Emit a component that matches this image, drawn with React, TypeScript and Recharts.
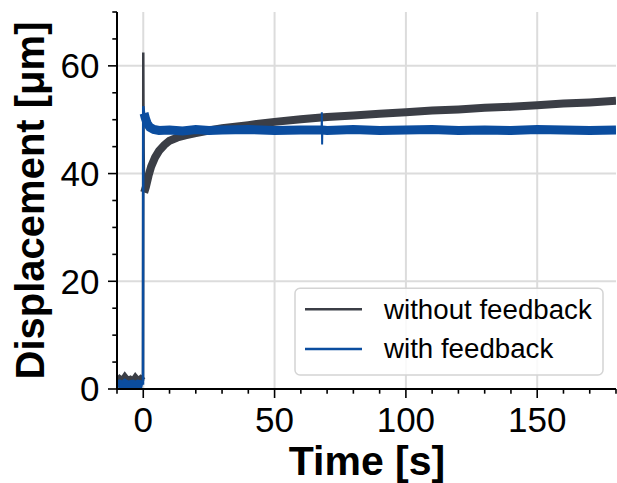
import React from 'react';
import { LineChart, Line, XAxis, YAxis, CartesianGrid, Customized } from 'recharts';

const FONT = '"Liberation Sans", Arial, Helvetica, sans-serif';

// ---- axis ticks / labels ----
const xMajorTicks = [0, 50, 100, 150];
const xMinorTicks = [-10, 10, 20, 30, 40, 60, 70, 80, 90, 110, 120, 130, 140, 160, 170, 180];
const yMajorTicks = [0, 20, 40, 60];
const yMinorTicks = [5, 10, 15, 25, 30, 35, 45, 50, 55, 65, 70];
const xDomain = [-10, 180];
const yDomain = [0, 70];
const xLabel = 'Time [s]';
const yLabel = 'Displacement [μm]';
const seriesNames = ['without feedback', 'with feedback'];
const seriesColors = ['#3b3e46', '#0b4d9f'];

// ---- without feedback (dark gray) ----
const grayPreT = [-10, -9, -8, -7, -6, -5, -4, -3, -2, -1, -0.1];
const grayPreV = [1.4, 1.9, 1.5, 2.2, 1.6, 1.8, 1.4, 2.1, 1.5, 1.9, 1.5];
const grayJumpT = [-0.1, 0, 0.12, 0.35];
const grayJumpV = [1.5, 62.5, 45, 37];
const grayMainT = [0.35, 1, 2, 3, 4.5, 6, 8, 10, 13, 16, 20, 25, 30, 35, 40, 50, 60, 70, 80, 90, 100, 110, 120, 130, 140, 150, 160, 170, 180];
const grayMainV = [36.5, 37.5, 39.6, 41.3, 43.0, 44.2, 45.3, 46.1, 46.7, 47.1, 47.5, 48.0, 48.4, 48.7, 49.0, 49.6, 50.1, 50.5, 50.8, 51.1, 51.4, 51.7, 51.9, 52.2, 52.4, 52.7, 53.0, 53.2, 53.5];

// ---- with feedback (blue) ----
const bluePreT = [-10, -9, -8, -7, -6, -5, -4, -3, -2, -1, -0.1];
const bluePreV = [0.8, 1.0, 0.7, 1.1, 0.8, 0.9, 1.0, 0.7, 1.0, 0.9, 0.8];
const blueJumpT = [-0.1, 0, 0.3];
const blueJumpV = [0.8, 52.5, 51.2];
const blueMainT = [0.3, 0.8, 1.5, 2.5, 4, 6, 10, 15, 20, 25, 30, 40, 50, 60, 67.9, 68.2, 70, 80, 90, 100, 110, 120, 130, 140, 150, 160, 170, 180];
const blueMainV = [51.2, 50.3, 49.3, 48.6, 48.2, 48.0, 48.1, 47.9, 48.2, 48.0, 48.1, 48.2, 48.0, 48.1, 48.1, 48.1, 48.0, 48.2, 48.0, 48.1, 48.2, 48.0, 48.1, 48.0, 48.2, 48.1, 48.0, 48.1];
const blueSpikeT = [67.9, 68.0, 68.1, 68.2];
const blueSpikeV = [48.1, 51.4, 45.4, 48.1];

const toPts = (t: number[], v: number[]) => t.map((x, i) => ({ t: x, v: v[i] }));

const grayPre = toPts(grayPreT, grayPreV);
const grayJump = toPts(grayJumpT, grayJumpV);
const grayMain = toPts(grayMainT, grayMainV);
const bluePre = toPts(bluePreT, bluePreV);
const blueJump = toPts(blueJumpT, blueJumpV);
const blueMain = toPts(blueMainT, blueMainV);
const blueSpike = toPts(blueSpikeT, blueSpikeV);

const xAllTicks = [...xMajorTicks, ...xMinorTicks].sort((a, b) => a - b);
const yAllTicks = [...yMajorTicks, ...yMinorTicks].sort((a, b) => a - b);

const XTick = (props: any) => {
  const { x, y, payload } = props;
  const major = xMajorTicks.includes(payload.value);
  return (
    <g>
      <line x1={x} x2={x} y1={y} y2={y + (major ? 9 : 4.7)} stroke="#000" strokeWidth={1.6} />
      {major && (
        <text x={x} y={y + 43} textAnchor="middle" fontSize={35} fontFamily={FONT} fill="#000">
          {payload.value}
        </text>
      )}
    </g>
  );
};

const YTick = (props: any) => {
  const { x, y, payload } = props;
  const major = yMajorTicks.includes(payload.value);
  return (
    <g>
      <line x1={x} x2={x - (major ? 9 : 4.7)} y1={y} y2={y} stroke="#000" strokeWidth={1.6} />
      {major && (
        <text x={x - 17.5} y={y + 12.4} textAnchor="end" fontSize={35} fontFamily={FONT} fill="#000">
          {payload.value}
        </text>
      )}
    </g>
  );
};

const Overlay = () => (
  <g>
    <text
      x={44}
      y={200.5}
      transform="rotate(-90, 44, 200.5)"
      textAnchor="middle"
      fontSize={40}
      fontWeight="bold"
      fontFamily={FONT}
      fill="#000"
    >
      {yLabel}
    </text>
    <text x={367} y={475} textAnchor="middle" fontSize={41} fontWeight="bold" fontFamily={FONT} fill="#000">
      {xLabel}
    </text>
    <rect x={295} y={288.3} width={308} height={86.7} rx={5} ry={5} fill="#fff" fillOpacity={0.85} stroke="#d4d4d4" strokeWidth={1.5} />
    {seriesNames.map((name, i) => (
      <g key={name}>
        <line x1={305} x2={362} y1={309.3 + i * 39.7} y2={309.3 + i * 39.7} stroke={seriesColors[i]} strokeWidth={2.5} />
        <text x={384} y={318.5 + i * 39.7} fontSize={27.7} fontFamily={FONT} fill="#000">
          {name}
        </text>
      </g>
    ))}
  </g>
);

export default function App() {
  return (
    <div style={{ position: 'fixed', left: 0, top: 0, width: 617, height: 483, background: '#fff' }}>
      <LineChart width={617} height={483} margin={{ top: 12, right: 1, left: 0, bottom: 0 }}>
        <CartesianGrid
          stroke="#dcdcdc"
          strokeWidth={2}
          verticalValues={xMajorTicks}
          horizontalValues={yMajorTicks}
          syncWithTicks
        />
        <XAxis
          dataKey="t"
          type="number"
          domain={xDomain}
          allowDataOverflow
          ticks={xAllTicks}
          interval={0}
          tickSize={0}
          tickMargin={0}
          tickLine={false}
          tick={XTick}
          height={94}
          axisLine={{ stroke: '#000', strokeWidth: 2 }}
        />
        <XAxis
          xAxisId="top"
          orientation="top"
          dataKey="t"
          type="number"
          domain={xDomain}
          allowDataOverflow
          tick={false}
          tickLine={false}
          height={0}
          axisLine={{ stroke: '#000', strokeWidth: 2 }}
        />
        <YAxis
          type="number"
          domain={yDomain}
          allowDataOverflow
          ticks={yAllTicks}
          interval={0}
          tickSize={0}
          tickMargin={0}
          tickLine={false}
          tick={YTick}
          width={117}
          axisLine={{ stroke: '#000', strokeWidth: 2 }}
        />
        <YAxis
          yAxisId="right"
          orientation="right"
          type="number"
          domain={yDomain}
          tick={false}
          tickLine={false}
          width={0}
          axisLine={{ stroke: '#c4c4c4', strokeWidth: 1.5 }}
        />
        <Line data={grayPre} dataKey="v" stroke={seriesColors[0]} strokeWidth={7} dot={false} isAnimationActive={false} />
        <Line data={grayJump} dataKey="v" stroke={seriesColors[0]} strokeWidth={2.5} dot={false} isAnimationActive={false} />
        <Line data={grayMain} dataKey="v" stroke={seriesColors[0]} strokeWidth={8} dot={false} isAnimationActive={false} />
        <Line data={bluePre} dataKey="v" stroke={seriesColors[1]} strokeWidth={8} dot={false} isAnimationActive={false} />
        <Line data={blueJump} dataKey="v" stroke={seriesColors[1]} strokeWidth={2.5} dot={false} isAnimationActive={false} />
        <Line data={blueMain} dataKey="v" stroke={seriesColors[1]} strokeWidth={9} dot={false} isAnimationActive={false} />
        <Line data={blueSpike} dataKey="v" stroke={seriesColors[1]} strokeWidth={2} dot={false} isAnimationActive={false} />
        <Customized component={Overlay} />
      </LineChart>
    </div>
  );
}
